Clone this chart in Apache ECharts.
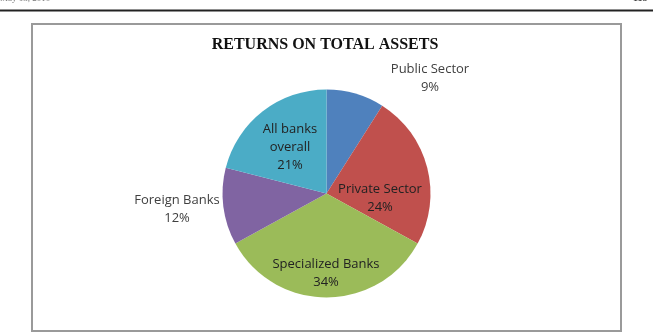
<!DOCTYPE html>
<html>
<head>
<meta charset="utf-8">
<script src="https://cdn.jsdelivr.net/npm/echarts@6/dist/echarts.min.js"></script>
<style>
html,body{margin:0;padding:0;background:#fff;}
#c{width:653px;height:335px;}
</style>
</head>
<body>
<div id="c"></div>
<script>
var title = 'RETURNS ON TOTAL ASSETS';
var categories = ['Public Sector', 'Private Sector', 'Specialized Banks', 'Foreign Banks', 'All banks overall'];
var values = [9, 24, 34, 12, 21];
var colors = ['#4F81BD', '#C0504D', '#9BBB59', '#8064A2', '#4BACC6'];
var headerLeft = 'May 13, 2010';
var headerRight = '113';

// label anchor positions (layout only)
var labelPos = [[430, 78], [380, 198], [326, 273], [177, 209], [290, 147]];
var outside = [true, false, false, true, false];

var chart = echarts.init(document.getElementById('c'), null, {renderer: 'canvas'});
chart.setOption({
  backgroundColor: '#fff',
  animation: false,
  graphic: [
    {type: 'text', left: 0, top: -6, style: {text: headerLeft, font: '9px "Liberation Serif"', fill: '#777'}},
    {type: 'text', left: 633, top: -7, style: {text: headerRight, font: 'bold 10px "Liberation Serif"', fill: '#444'}},
    {type: 'line', shape: {x1: 0, y1: 10.5, x2: 653, y2: 10.5}, style: {stroke: '#222', lineWidth: 2}},
    {type: 'rect', shape: {x: 32, y: 24, width: 589, height: 307}, style: {fill: 'none', stroke: '#9a9a9a', lineWidth: 2}},
    {type: 'text', x: 325, y: 45, style: {text: title, font: 'bold 16px "Liberation Serif"', fill: '#111', textAlign: 'center', textVerticalAlign: 'middle'}}
  ],
  series: [{
    type: 'pie',
    center: [326.5, 193.5],
    radius: 104,
    startAngle: 90,
    clockwise: true,
    avoidLabelOverlap: false,
    data: categories.map(function (n, i) {
      return {
        name: n, value: values[i], itemStyle: {color: colors[i]},
        label: outside[i] ? {color: '#404040'} : {}
      };
    }),
    label: {
      show: true,
      position: 'inside',
      formatter: function (p) {
        return p.name.replace('All banks overall', 'All banks\noverall') + '\n' + p.value + '%';
      },
      fontFamily: '"Open Sans"',
      fontSize: 13,
      lineHeight: 18,
      align: 'center',
      color: '#222'
    },
    labelLine: {show: false},
    labelLayout: function (params) {
      var i = params.dataIndex;
      return {x: labelPos[i][0], y: labelPos[i][1], align: 'center', verticalAlign: 'middle'};
    },
    emphasis: {disabled: true}
  }]
});
</script>
</body>
</html>
